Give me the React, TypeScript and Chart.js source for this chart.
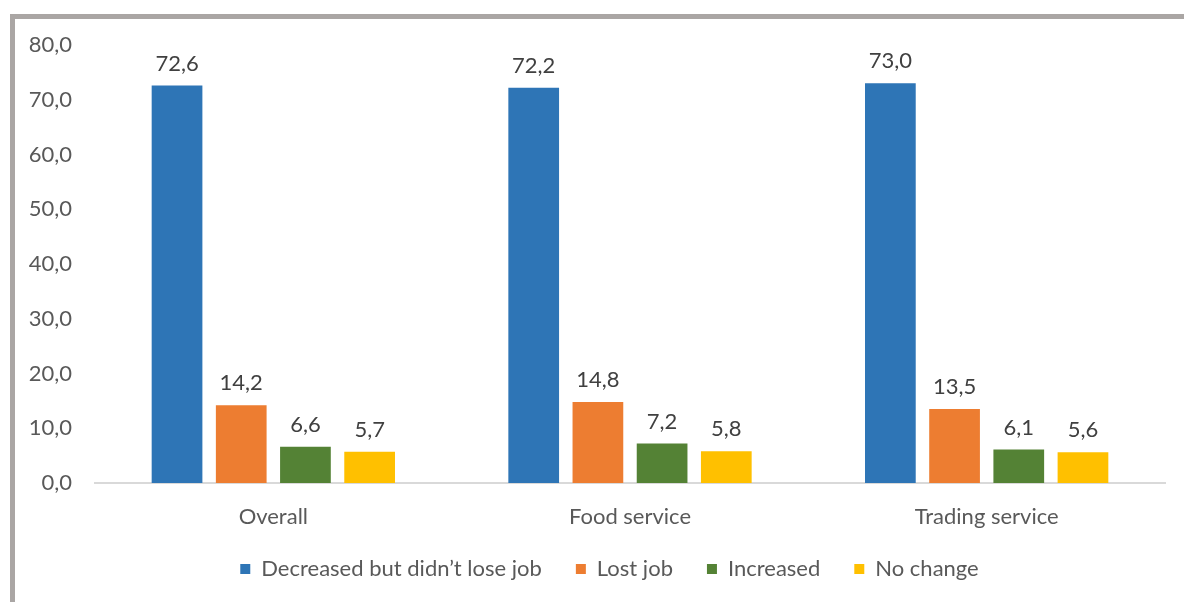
import React, { useEffect, useRef } from "react";
import { Chart, registerables } from "chart.js";

Chart.register(...registerables);

const categories = ["Overall", "Food service", "Trading service"];
const seriesNames = ["Decreased but didn\u2019t lose job", "Lost job", "Increased", "No change"];
const decreasedValues = [72.6, 72.2, 73.0];
const lostJobValues = [14.2, 14.8, 13.5];
const increasedValues = [6.6, 7.2, 6.1];
const noChangeValues = [5.7, 5.8, 5.6];
const seriesColors = ["#2E75B6", "#ED7D31", "#548235", "#FFC000"];
const yMin = 0;
const yMax = 80;
const yStep = 10;

const FONT = "Lato, 'Liberation Sans', sans-serif";
const FS = 22;
const fmt = (v: number) => v.toFixed(1).replace(".", ",");

const labelPlugin = {
  id: "barLabels",
  afterDatasetsDraw(chart: any) {
    const ctx = chart.ctx;
    ctx.save();
    ctx.font = `${FS}px ${FONT}`;
    ctx.fillStyle = "#404040";
    ctx.textAlign = "center";
    ctx.textBaseline = "middle";
    chart.data.datasets.forEach((ds: any, i: number) => {
      const meta = chart.getDatasetMeta(i);
      meta.data.forEach((el: any, j: number) => {
        ctx.fillText(fmt(ds.data[j]), el.x, el.y - 22);
      });
    });
    ctx.restore();
  },
};

const legendShiftPlugin = {
  id: "legendShift",
  afterLayout(chart: any) {
    if (chart.legend) {
      chart.legend.left += 27;
      chart.legend.right += 27;
      chart.legend.top -= 9;
      chart.legend.bottom -= 9;
    }
  },
};

export default function App() {
  const ref = useRef<HTMLCanvasElement>(null);
  useEffect(() => {
    if (!ref.current) return;
    const allValues = [decreasedValues, lostJobValues, increasedValues, noChangeValues];
    const chart = new Chart(ref.current, {
      type: "bar",
      data: {
        labels: categories,
        datasets: allValues.map((vals, i) => ({
          label: seriesNames[i],
          data: vals,
          backgroundColor: seriesColors[i],
          borderWidth: 0,
          categoryPercentage: 0.72,
          barPercentage: 0.79,
        })),
      },
      options: {
        responsive: false,
        animation: false,
        layout: { padding: { left: 0, right: 19, top: 45, bottom: 3 } },
        plugins: {
          tooltip: { enabled: false },
          legend: {
            position: "bottom",
            labels: {
              boxWidth: 10,
              boxHeight: 10,
              padding: 34,
              color: "#595959",
              font: { family: FONT, size: FS },
            },
          },
        },
        scales: {
          x: {
            grid: { display: false, drawTicks: false },
            border: { display: true, color: "#D9D9D9", width: 2 },
            ticks: { color: "#595959", font: { family: FONT, size: FS }, padding: 21 },
            afterFit: (s: any) => { s.height = 50; },
          },
          y: {
            min: yMin,
            max: yMax,
            grid: { display: false, drawTicks: false },
            border: { display: false },
            ticks: {
              stepSize: yStep,
              color: "#595959",
              font: { family: FONT, size: FS },
              padding: 23,
              callback: (v: any) => fmt(Number(v)),
            },
            afterFit: (s: any) => { s.width = 95; },
          },
        },
      },
      plugins: [labelPlugin, legendShiftPlugin],
    });
    return () => chart.destroy();
  }, []);
  return (
    <div style={{ position: "fixed", left: 0, top: 0, width: 1184, height: 602, overflow: "hidden", background: "#fff" }}>
      <div style={{ position: "absolute", left: 10, top: 14, width: 1250, height: 700, border: "5px solid #AAA6A4", boxSizing: "border-box" }} />
      <canvas ref={ref} width={1184} height={602} style={{ position: "absolute", left: 0, top: 0 }} />
    </div>
  );
}
